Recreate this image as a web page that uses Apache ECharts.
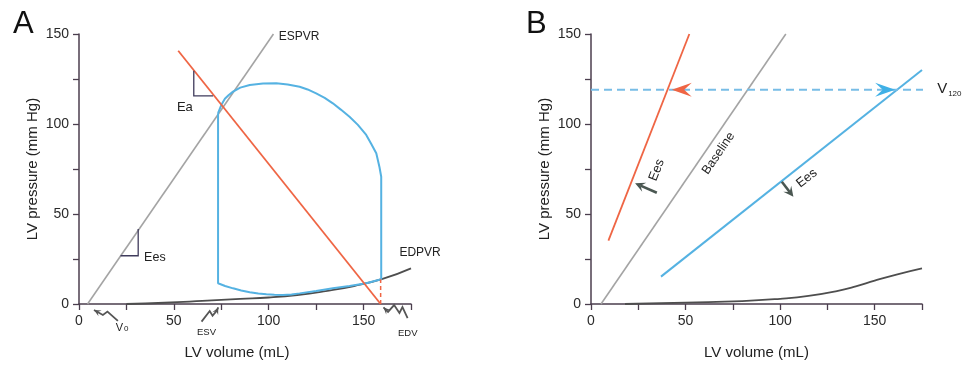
<!DOCTYPE html>
<html><head><meta charset="utf-8">
<script src="https://cdn.jsdelivr.net/npm/echarts@6/dist/echarts.min.js"></script>
<style>html,body{margin:0;padding:0;background:#fff}#c{width:974px;height:365px}</style>
</head><body><div id="c"></div>
<script>
// ---------- DATA ----------
const xTickLabels = ['0', '50', '100', '150'];
const yTickLabels = ['0', '50', '100', '150'];

// Panel A
const espvrA = [[4.5, 0], [102.5, 150]];
const eaA = [[52.3, 140.7], [159, 0]];
const edvDropA = [[159, 0], [159, 13.7]];
const edpvrA = [[25, 0], [45, 0.7], [65, 1.7], [85, 2.8], [100, 3.6], [115, 5], [130, 7.2], [145, 10], [160, 13.9], [175, 19.8]];
const loopVolA = [73.3, 73.3, 77, 81.2, 85.5, 90, 94.5, 98.8, 103, 107.5, 112, 116.3, 125, 133.8, 142.6, 151.4, 159.3,
  159.3, 158.4, 156.7, 154, 151.4, 147, 142.6, 138, 133.8, 129.5, 125, 120.5, 116.3, 110, 104, 97, 90, 85, 81.2, 78.8, 76.9, 75, 73.3];
const loopPresA = [106, 11.5, 10, 8.7, 7.5, 6.5, 5.8, 5.4, 5.1, 5, 5.3, 5.9, 7.2, 8.7, 10, 11.5, 13.7,
  70.7, 76, 83.7, 89, 93.9, 99.5, 104, 108, 111.5, 114.5, 117, 119.2, 120.7, 122, 122.6, 122.5, 121.7, 120.2, 118, 116, 114, 110.5, 106];

// Panel B
const redB = [[9.2, 35.2], [52, 150]];
const baselineB = [[5.3, 0], [103, 150]];
const blueB = [[37, 15.2], [175, 130]];
const edpvrB = [[18, 0], [50, 0.8], [80, 1.6], [100, 2.9], [115, 4.5], [130, 7.2], [140, 9.8], [150, 13], [162, 16.5], [175, 19.8]];
const v120B = [[0, 119], [180, 119]];

// Annotations (data coordinates)
const annA = [
  {t: 'text', at: [105.3, 148.3], s: 'ESPVR', align: 'left', size: 12},
  {t: 'poly', pts: [[60.5, 129.6], [60.5, 115.6], [70.7, 115.6]]},
  {t: 'text', at: [55.8, 109.4], s: 'Ea', size: 13},
  {t: 'poly', pts: [[31.2, 41.7], [31.2, 26.8], [21.9, 26.8]]},
  {t: 'text', at: [40, 25.6], s: 'Ees', size: 12.5},
  {t: 'text', at: [168.9, 28.3], s: 'EDPVR', align: 'left', size: 12},
  {t: 'squig', pts: [[7.9, -3.3], [12.6, -6.1], [15, -4.2], [20.5, -9.4]]},
  {t: 'squig', pts: [[73.4, -1.9], [72.5, -3.9], [70.4, -6.5], [68.9, -3.9], [64.6, -9.8]]},
  {t: 'squig', pts: [[160.5, -1.9], [162.9, -4.4], [166.1, -0.6], [168.9, -5], [170.5, -1.7], [173.2, -7.8]]},
  {t: 'sub', at: [22.5, -13.3], s: 'V', sub: '0', size: 11, subSize: 8, dy: 1},
  {t: 'text', at: [67.2, -15.7], s: 'ESV', size: 9.5},
  {t: 'text', at: [173.3, -16.3], s: 'EDV', size: 9.5}
];
const annB = [
  {t: 'text', at: [34.8, 74.4], s: 'Ees', size: 13, rot: 68.6},
  {t: 'arrow', from: [34.8, 61.8], to: [23.3, 67.1]},
  {t: 'text', at: [67.4, 83.7], s: 'Baseline', size: 12.5, rot: 55.6},
  {t: 'text', at: [114.1, 69.8], s: 'Ees', size: 13, rot: 38.4},
  {t: 'arrow', from: [100.9, 67.9], to: [107, 59.6]},
  {t: 'head', from: [53.3, 119], to: [42.7, 119], color: '#ef6544'},
  {t: 'head', from: [150.3, 119], to: [160.8, 119], color: '#3fb0e6'},
  {t: 'sub', at: [183, 119.5], s: 'V', sub: '120', size: 15, subSize: 8, dy: 5, align: 'left'}
];

// ---------- STYLE ----------
const FONT = 'Liberation Sans, Arial, sans-serif';
const AXIS = '#4b3e4e';
const GRAY = '#a4a4a4';
const RED = '#ef6544';
const BLUE = '#55b2e2';
const DARK = '#4e4e4e';
const ANNO = '#3f3b5c';

function headPts(tip, from, L, W, notch) {
  const dx = tip[0] - from[0], dy = tip[1] - from[1];
  const len = Math.hypot(dx, dy) || 1;
  const ux = dx / len, uy = dy / len, nx = -uy, ny = ux;
  const bx = tip[0] - ux * L, by = tip[1] - uy * L;
  return [[tip[0], tip[1]], [bx + nx * W, by + ny * W], [tip[0] - ux * L * notch, tip[1] - uy * L * notch], [bx - nx * W, by - ny * W]];
}

function makeRender(list) {
  return function (params, api) {
    const a = list[params.dataIndex];
    const C = p => api.coord(p);
    if (a.t === 'text') {
      const p = C(a.at);
      return {type: 'text', x: p[0], y: p[1], rotation: (a.rot || 0) * Math.PI / 180,
        style: {text: a.s, fontSize: a.size, fontFamily: FONT, fill: '#222', align: a.align || 'center', verticalAlign: 'middle'}};
    }
    if (a.t === 'sub') {
      const p = C(a.at);
      const wV = a.size * 0.667;
      const x0 = a.align === 'left' ? p[0] : p[0] - wV / 2 - a.sub.length * a.subSize * 0.28;
      return {type: 'group', children: [
        {type: 'text', x: x0, y: p[1], style: {text: a.s, fontSize: a.size, fontFamily: FONT, fill: '#222', align: 'left', verticalAlign: 'middle'}},
        {type: 'text', x: x0 + wV + 1, y: p[1] + a.dy, style: {text: a.sub, fontSize: a.subSize, fontFamily: FONT, fill: '#222', align: 'left', verticalAlign: 'middle'}}
      ]};
    }
    if (a.t === 'poly') {
      return {type: 'polyline', shape: {points: a.pts.map(C)}, style: {stroke: ANNO, lineWidth: 1.3, fill: null}};
    }
    if (a.t === 'squig') {
      const pts = a.pts.map(C);
      return {type: 'group', children: [
        {type: 'polyline', shape: {points: pts}, style: {stroke: '#555', lineWidth: 1.8, fill: null}},
        {type: 'polygon', shape: {points: headPts(pts[0], pts[1], 7, 3.2, 0.6)}, style: {fill: '#555'}}
      ]};
    }
    if (a.t === 'arrow') {
      const f = C(a.from), t = C(a.to);
      const h = headPts(t, f, 10, 5, 0.6);
      return {type: 'group', children: [
        {type: 'line', shape: {x1: f[0], y1: f[1], x2: h[2][0], y2: h[2][1]}, style: {stroke: '#4a5752', lineWidth: 2.6}},
        {type: 'polygon', shape: {points: h}, style: {fill: '#4a5752'}}
      ]};
    }
    if (a.t === 'head') {
      const f = C(a.from), t = C(a.to);
      return {type: 'polygon', shape: {points: headPts(t, f, 20, 7, 0.62)}, style: {fill: a.color}};
    }
  };
}

function line(data, color, width, xi, extra) {
  return Object.assign({type: 'line', data: data, xAxisIndex: xi, yAxisIndex: xi, showSymbol: false, symbol: 'none',
    silent: true, clip: false, lineStyle: {color: color, width: width}}, extra || {});
}

function xAxis(gi, padRight) {
  return {type: 'value', gridIndex: gi, min: 0, max: 175, interval: 25,
    name: 'LV volume (mL)', nameLocation: 'middle', nameGap: 41,
    nameTextStyle: {fontSize: 15, fontFamily: FONT, color: '#222', padding: [0, padRight, 0, 0]},
    axisLine: {lineStyle: {color: AXIS, width: 1.5}}, axisTick: {length: 6, lineStyle: {color: AXIS, width: 1.3}},
    splitLine: {show: false},
    axisLabel: {fontSize: 14, fontFamily: FONT, color: '#2a2a2a', margin: 10,
      formatter: v => xTickLabels.includes(String(v)) ? String(v) : ''}};
}
function yAxis(gi) {
  return {type: 'value', gridIndex: gi, min: 0, max: 150, interval: 25,
    name: 'LV pressure (mm Hg)', nameLocation: 'middle', nameGap: 39,
    nameTextStyle: {fontSize: 15, fontFamily: FONT, color: '#222'},
    axisLine: {show: true, lineStyle: {color: AXIS, width: 1.5}}, axisTick: {show: true, length: 6, lineStyle: {color: AXIS, width: 1.3}},
    splitLine: {show: false},
    axisLabel: {fontSize: 14, fontFamily: FONT, color: '#2a2a2a', margin: 10,
      formatter: v => yTickLabels.includes(String(v)) ? String(v) : ''}};
}

const loopA = loopVolA.map((v, i) => [v, loopPresA[i]]);

const chart = echarts.init(document.getElementById('c'), null, {renderer: 'canvas'});
chart.setOption({
  animation: false,
  backgroundColor: '#fff',
  grid: [
    {left: 79, right: 563, top: 34, bottom: 61},
    {left: 591, right: 52, top: 34, bottom: 61}
  ],
  xAxis: [xAxis(0, 16), xAxis(1, 0)],
  yAxis: [yAxis(0), yAxis(1)],
  graphic: [
    {type: 'text', left: 13, top: 9, style: {text: 'A', fontSize: 31, fontFamily: FONT, fill: '#111'}},
    {type: 'text', left: 526, top: 9, style: {text: 'B', fontSize: 31, fontFamily: FONT, fill: '#111'}}
  ],
  series: [
    line(edpvrA, DARK, 1.8, 0, {smooth: true}),
    line(espvrA, GRAY, 1.6, 0),
    line(loopA, BLUE, 2, 0),
    line(eaA, RED, 1.8, 0),
    line(edvDropA, RED, 1.5, 0, {lineStyle: {color: RED, width: 1.5, type: [4, 3]}}),
    {type: 'custom', xAxisIndex: 0, yAxisIndex: 0, silent: true, clip: false,
      data: annA.map(a => a.at || (a.pts ? a.pts[0] : a.to)),
      renderItem: makeRender(annA), z: 5},

    line(edpvrB, DARK, 1.8, 1, {smooth: true}),
    line(baselineB, GRAY, 1.6, 1),
    line(redB, RED, 1.8, 1),
    line(blueB, BLUE, 2, 1),
    line(v120B, '#78bde6', 2, 1, {lineStyle: {color: '#78bde6', width: 2, type: [8, 5]}}),
    {type: 'custom', xAxisIndex: 1, yAxisIndex: 1, silent: true, clip: false,
      data: annB.map(a => a.at || (a.pts ? a.pts[0] : a.to)),
      renderItem: makeRender(annB), z: 5}
  ]
});
</script>
</body></html>
